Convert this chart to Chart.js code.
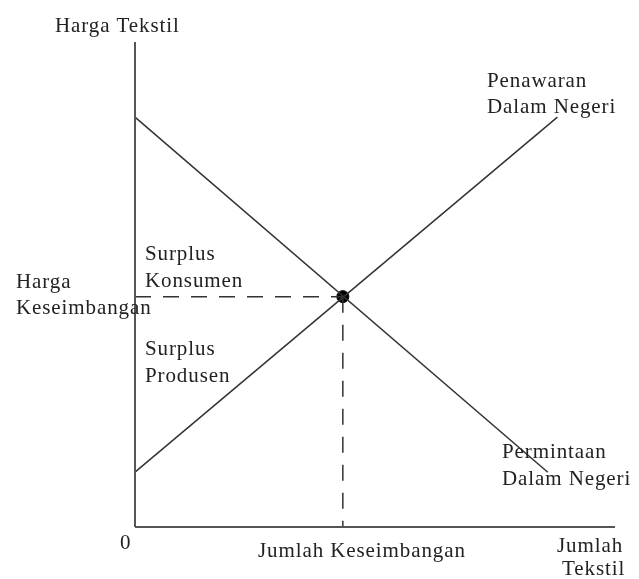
<!DOCTYPE html>
<html>
<head>
<meta charset="utf-8">
<script src="https://cdn.jsdelivr.net/npm/chart.js@4.4.1/dist/chart.umd.min.js"></script>
<style>
  html, body { margin: 0; padding: 0; background: #fff; }
  canvas { display: block; }
</style>
</head>
<body>
<canvas id="chart" width="639" height="579"></canvas>
<script>
// quantity (x) and price (y) in arbitrary units, 0..100
const demandQty = [0, 86];
const demandPrice = [84.5, 11.3];
const supplyQty = [0, 88];
const supplyPrice = [11.3, 84.5];
const eqQty = 43.3;
const eqPrice = 47.5;
const axisMax = 100;

function pts(xs, ys) {
    return xs.map((x, i) => ({ x: x, y: ys[i] }));
}

const textLabels = {
    id: 'textLabels',
    afterDraw(chart) {
        const ctx = chart.ctx;
        ctx.save();
        ctx.font = '21px "Liberation Serif"';
        ctx.fillStyle = '#222';
        ctx.textBaseline = 'alphabetic';
        ctx.textAlign = 'left';
        const spaced = 'letterSpacing' in ctx;
        if (spaced) ctx.letterSpacing = '0.9px';
        const items = [
            ['Harga Tekstil', 55, 32],
            ['Penawaran', 487, 87],
            ['Dalam Negeri', 487, 113],
            ['Surplus', 145, 260],
            ['Konsumen', 145, 287],
            ['Harga', 16, 288],
            ['Keseimbangan', 16, 314],
            ['Surplus', 145, 355],
            ['Produsen', 145, 382],
            ['Permintaan', 502, 458],
            ['Dalam Negeri', 502, 485],
            ['0', 120, 549],
            ['Jumlah Keseimbangan', 258, 557],
            ['Jumlah', 557, 552],
            ['Tekstil', 562, 575]
        ];
        items.forEach(([t, x, y]) => {
            if (spaced) {
                ctx.fillText(t, x, y);
            } else {
                ctx.save();
                ctx.translate(x, y);
                ctx.scale(1.08, 1);
                ctx.fillText(t, 0, 0);
                ctx.restore();
            }
        });
        ctx.restore();
    }
};

new Chart(document.getElementById('chart').getContext('2d'), {
    type: 'scatter',
    data: {
        datasets: [
            {
                label: 'Sumbu Harga',
                data: pts([0, 0], [0, axisMax]),
                showLine: true, borderColor: '#555', borderWidth: 2, pointRadius: 0
            },
            {
                label: 'Sumbu Jumlah',
                data: pts([0, axisMax], [0, 0]),
                showLine: true, borderColor: '#555', borderWidth: 2, pointRadius: 0
            },
            {
                label: 'Permintaan Dalam Negeri',
                data: pts(demandQty, demandPrice),
                showLine: true, borderColor: '#333', borderWidth: 1.5, pointRadius: 0
            },
            {
                label: 'Penawaran Dalam Negeri',
                data: pts(supplyQty, supplyPrice),
                showLine: true, borderColor: '#333', borderWidth: 1.5, pointRadius: 0
            },
            {
                label: 'Harga Keseimbangan',
                data: pts([0, eqQty], [eqPrice, eqPrice]),
                showLine: true, borderColor: '#333', borderWidth: 1.5, borderDash: [16, 12], pointRadius: 0
            },
            {
                label: 'Jumlah Keseimbangan',
                data: pts([eqQty, eqQty], [eqPrice, 0]),
                showLine: true, borderColor: '#333', borderWidth: 1.5, borderDash: [16, 12], pointRadius: 0
            },
            {
                label: 'Keseimbangan',
                data: pts([eqQty], [eqPrice]),
                pointRadius: 6, backgroundColor: '#000', borderColor: '#000'
            }
        ]
    },
    options: {
        responsive: false,
        animation: false,
        layout: { padding: { left: 135, top: 42, right: 24, bottom: 52 } },
        plugins: { legend: { display: false }, tooltip: { enabled: false } },
        elements: { line: { tension: 0 } },
        clip: false,
        scales: {
            x: { type: 'linear', min: 0, max: axisMax, display: false },
            y: { type: 'linear', min: 0, max: axisMax, display: false }
        }
    },
    plugins: [textLabels]
});
</script>
</body>
</html>
